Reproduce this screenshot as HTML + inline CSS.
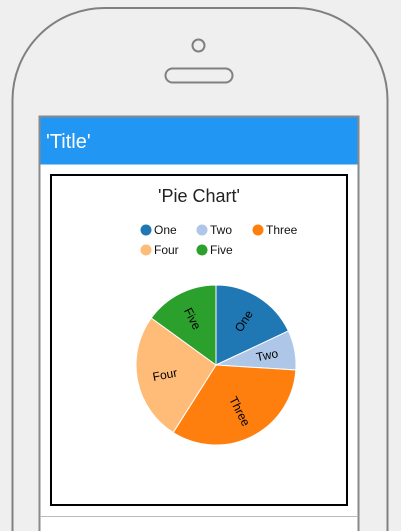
<!DOCTYPE html>
<html><head><meta charset="utf-8"><style>
html,body{margin:0;padding:0;background:#efefef;width:401px;height:531px;overflow:hidden;font-family:"Liberation Sans",sans-serif}
</style></head><body>
<svg width="401" height="531" style="position:absolute;left:0;top:0;overflow:hidden">
<path d="M12.5,531 L12.5,100 A92,92 0 0 1 104.5,8 L295.5,8 A92,92 0 0 1 387.5,100 L387.5,531" fill="#efefef" stroke="#808080" stroke-width="2"/>
<circle cx="198.5" cy="45.5" r="6" fill="none" stroke="#808080" stroke-width="2"/>
<rect x="165.5" y="68.5" width="67" height="14" rx="7" fill="none" stroke="#808080" stroke-width="2"/>
<path d="M39.5,531 L39.5,116.5 L358.5,116.5 L358.5,531" fill="#fff" stroke="#8a8a8a" stroke-width="2"/>
<rect x="40.5" y="117.5" width="317" height="47" fill="#2196F3"/>
<text x="46" y="148" font-size="20" fill="#fff">'Title'</text>
<rect x="51" y="175" width="296" height="330" fill="#fff" stroke="#000" stroke-width="2"/>
<line x1="40" y1="516.5" x2="358" y2="516.5" stroke="#bbb" stroke-width="1"/>
<text x="199" y="202" font-size="18" text-anchor="middle" fill="#222">'Pie Chart'</text>
<g id="legend"></g>
<g id="pie"></g>
</svg>
<script>
const categories=["One","Two","Three","Four","Five"];
const values=[18,8,33,26,15];
const colors=["#1f77b4","#aec7e8","#ff7f0e","#ffbb78","#2ca02c"];
const NS="http://www.w3.org/2000/svg";
const cx=216,cy=365,R=80,LR=52;
const total=values.reduce((a,b)=>a+b,0);
const pie=document.getElementById('pie');
const leg=document.getElementById('legend');
let a0=0;
values.forEach((v,i)=>{
  const a1=a0+v/total*Math.PI*2;
  const p=(a)=>[cx+R*Math.sin(a),cy-R*Math.cos(a)];
  const [x0,y0]=p(a0),[x1,y1]=p(a1);
  const path=document.createElementNS(NS,'path');
  path.setAttribute('d',`M${cx},${cy}L${x0},${y0}A${R},${R} 0 ${a1-a0>Math.PI?1:0} 1 ${x1},${y1}Z`);
  path.setAttribute('fill',colors[i]);path.setAttribute('stroke','#fff');path.setAttribute('stroke-width','1');
  
  
  pie.appendChild(path);
  const m=(a0+a1)/2;
  const lx=cx+LR*Math.sin(m),ly=cy-LR*Math.cos(m);
  let rot=m*180/Math.PI-90; if(rot>90) rot-=180;
  const t=document.createElementNS(NS,'text');
  t.setAttribute('x',lx);t.setAttribute('y',ly);t.setAttribute('font-size','12');
  t.setAttribute('text-anchor','middle');t.setAttribute('dominant-baseline','central');
  t.setAttribute('transform',`rotate(${rot} ${lx} ${ly})`);
  t.textContent=categories[i];
  
  
  pie.appendChild(t);
  a0=a1;
  const lxp=146+(i%3)*56, lyp=230+Math.floor(i/3)*20;
  const c=document.createElementNS(NS,'circle');
  c.setAttribute('cx',lxp);c.setAttribute('cy',lyp);c.setAttribute('r','5.5');c.setAttribute('fill',colors[i]);
  
  
  leg.appendChild(c);
  const lt=document.createElementNS(NS,'text');
  lt.setAttribute('x',lxp+8);lt.setAttribute('y',lyp+4);lt.setAttribute('font-size','12');lt.setAttribute('fill','#111');
  lt.textContent=categories[i];
  
  
  leg.appendChild(lt);
});
</script>
</body></html>
